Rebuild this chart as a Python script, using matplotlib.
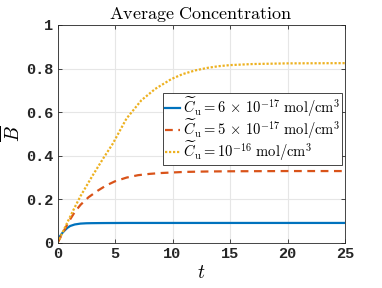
import matplotlib
matplotlib.use("Agg")
from matplotlib import pyplot as plt

# values
t_blue = [0, 0.2, 0.45, 0.65, 0.85, 1.1, 1.5, 2.0, 2.5, 3, 4, 6, 10, 15, 20, 25]
b_blue = [0, 0.03, 0.048, 0.059, 0.069, 0.078, 0.085, 0.089, 0.0905, 0.091, 0.0915, 0.092, 0.092, 0.092, 0.092, 0.092]

t_orange = [0, 0.5, 1.0, 1.5, 2.0, 2.7, 3.5, 4.2, 5.0, 6.0, 7.0, 8.0, 9.0, 11, 13, 15, 20, 25]
b_orange = [0, 0.05, 0.1, 0.142, 0.175, 0.21, 0.24, 0.263, 0.283, 0.3, 0.311, 0.317, 0.321, 0.326, 0.328, 0.329, 0.33, 0.33]

t_yellow = [0, 1.0, 1.5, 2.0, 3.0, 4.0, 4.8, 6.0, 7.3, 8.5, 9.9, 10.9, 12, 13, 14, 15, 17, 20, 25]
b_yellow = [0, 0.11, 0.164, 0.215, 0.305, 0.39, 0.455, 0.571, 0.655, 0.707, 0.752, 0.775, 0.792, 0.803, 0.811, 0.816, 0.821, 0.824, 0.825]

labels = [r"$\widetilde{C}_\mathrm{u} = 6\,\times\,10^{-17}\ \mathrm{mol/cm}^3$",
          r"$\widetilde{C}_\mathrm{u} = 5\,\times\,10^{-17}\ \mathrm{mol/cm}^3$",
          r"$\widetilde{C}_\mathrm{u} = 10^{-16}\ \mathrm{mol/cm}^3$"]

plt.rcParams["mathtext.fontset"] = "cm"

fig = plt.figure(figsize=(3.82, 2.88), dpi=100)
ax = fig.add_axes([57.5 / 382, 45 / 288, 287.5 / 382, 218 / 288])

ax.plot(t_blue, b_blue, color="#0072bd", lw=1.6, ls="-")
ax.plot(t_orange, b_orange, color="#d95319", lw=1.6, ls=(0, (3.5, 2.5)))
ax.plot(t_yellow, b_yellow, color="#edb120", lw=1.6, ls=(0, (1, 0.8)))

ax.set_xlim(0, 25)
ax.set_ylim(0, 1)
ax.set_xticks([0, 5, 10, 15, 20, 25])
ax.set_yticks([0, 0.2, 0.4, 0.6, 0.8, 1])
ax.set_yticklabels(["0", "0.2", "0.4", "0.6", "0.8", "1"])
ax.grid(True, color="#e6e6e6", lw=0.8)
ax.set_axisbelow(True)
for s in ax.spines.values():
    s.set_color("#262626")
    s.set_linewidth(0.6)
ax.tick_params(direction="in", top=True, right=True, length=3, width=0.6,
               color="#262626", pad=3)
for lab in ax.get_xticklabels() + ax.get_yticklabels():
    lab.set_family("Liberation Mono")
    lab.set_weight("bold")
    lab.set_fontsize(11)
    lab.set_color("#262626")

ax.set_title(r"$\mathrm{Average\ Concentration}$", fontsize=13, pad=4)
ax.set_xlabel(r"$t$", fontsize=14, labelpad=1)
ax.set_ylabel(r"$\overline{B}$", fontsize=14, labelpad=2)

leg = ax.legend(labels, loc="upper right", bbox_to_anchor=(0.99, 0.688),
                fontsize=10.5, handlelength=1.0, handletextpad=0.2,
                borderpad=0.15, labelspacing=-0.12, fancybox=False, framealpha=1,
                borderaxespad=0)
leg.get_frame().set_edgecolor("#262626")
leg.get_frame().set_linewidth(0.6)

fig.savefig("out.png", dpi=100)
